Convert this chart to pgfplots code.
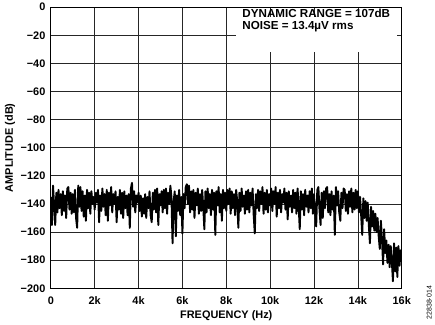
\documentclass[border=0pt]{standalone}
\usepackage{fontspec}
\setmainfont{Liberation Sans}
\usepackage{pgfplots}
\usepackage{pgfplotstable}
\pgfplotsset{compat=1.18}
\pgfplotstableread[row sep=\\]{
x y\\
0 -135\\ 50 -155\\ 100 -127\\ 150 -141\\ 200 -155\\ 250 -132\\ 300 -146\\ 350 -130\\ 400 -143\\ 450 -133\\
500 -148\\ 550 -131\\ 600 -145\\ 650 -134\\ 700 -150\\ 750 -129\\ 800 -128\\ 850 -144\\ 900 -132\\ 950 -147\\
1000 -133\\ 1050 -146\\ 1100 -130\\ 1150 -150\\ 1200 -157\\ 1250 -127\\ 1300 -142\\ 1350 -128\\ 1400 -145\\ 1450 -131\\
1500 -149\\ 1550 -134\\ 1600 -152\\ 1650 -130\\ 1700 -143\\ 1750 -132\\ 1800 -147\\ 1850 -131\\ 1900 -140\\ 1950 -135\\
2000 -144\\ 2050 -132\\ 2100 -139\\ 2150 -130\\ 2200 -153\\ 2250 -134\\ 2300 -145\\ 2350 -129\\ 2400 -142\\ 2450 -133\\
2500 -148\\ 2550 -130\\ 2600 -152\\ 2650 -132\\ 2700 -141\\ 2750 -128\\ 2800 -146\\ 2850 -133\\ 2900 -140\\ 2950 -131\\
3000 -153\\ 3050 -135\\ 3100 -144\\ 3150 -130\\ 3200 -147\\ 3250 -132\\ 3300 -150\\ 3350 -131\\ 3400 -143\\ 3450 -134\\
3500 -148\\ 3550 -133\\ 3600 -157\\ 3650 -129\\ 3700 -125\\ 3750 -142\\ 3800 -131\\ 3850 -146\\ 3900 -134\\ 3950 -139\\
4000 -132\\ 4050 -145\\ 4100 -134\\ 4150 -149\\ 4200 -136\\ 4250 -147\\ 4300 -133\\ 4350 -150\\ 4400 -135\\ 4450 -143\\
4500 -131\\ 4550 -148\\ 4600 -153\\ 4650 -132\\ 4700 -144\\ 4750 -130\\ 4800 -146\\ 4850 -129\\ 4900 -155\\ 4950 -133\\
5000 -141\\ 5050 -131\\ 5100 -146\\ 5150 -130\\ 5200 -143\\ 5250 -129\\ 5300 -147\\ 5350 -132\\ 5400 -140\\ 5450 -127\\
5500 -135\\ 5550 -168\\ 5600 -138\\ 5650 -131\\ 5700 -163\\ 5750 -134\\ 5800 -145\\ 5850 -130\\ 5900 -148\\ 5950 -135\\
6000 -161\\ 6050 -133\\ 6100 -143\\ 6150 -128\\ 6200 -126\\ 6250 -140\\ 6300 -127\\ 6350 -146\\ 6400 -131\\ 6450 -144\\
6500 -130\\ 6550 -150\\ 6600 -132\\ 6650 -141\\ 6700 -129\\ 6750 -147\\ 6800 -133\\ 6850 -145\\ 6900 -130\\ 6950 -142\\
7000 -158\\ 7050 -131\\ 7100 -146\\ 7150 -129\\ 7200 -143\\ 7250 -133\\ 7300 -148\\ 7350 -130\\ 7400 -144\\ 7450 -132\\
7500 -162\\ 7550 -131\\ 7600 -141\\ 7650 -128\\ 7700 -146\\ 7750 -133\\ 7800 -152\\ 7850 -130\\ 7900 -143\\ 7950 -132\\
8000 -145\\ 8050 -130\\ 8100 -140\\ 8150 -129\\ 8200 -147\\ 8250 -131\\ 8300 -143\\ 8350 -133\\ 8400 -148\\ 8450 -130\\
8500 -138\\ 8550 -157\\ 8600 -132\\ 8650 -145\\ 8700 -129\\ 8750 -142\\ 8800 -134\\ 8850 -147\\ 8900 -131\\ 8950 -144\\
9000 -130\\ 9050 -146\\ 9100 -132\\ 9150 -141\\ 9200 -129\\ 9250 -148\\ 9300 -161\\ 9350 -133\\ 9400 -143\\ 9450 -130\\
9500 -145\\ 9550 -131\\ 9600 -140\\ 9650 -128\\ 9700 -147\\ 9750 -132\\ 9800 -144\\ 9850 -130\\ 9900 -146\\ 9950 -133\\
10000 -141\\ 10050 -129\\ 10100 -145\\ 10150 -131\\ 10200 -140\\ 10250 -128\\ 10300 -149\\ 10350 -132\\ 10400 -143\\ 10450 -130\\
10500 -146\\ 10550 -133\\ 10600 -139\\ 10650 -129\\ 10700 -144\\ 10750 -132\\ 10800 -151\\ 10850 -131\\ 10900 -142\\ 10950 -134\\
11000 -146\\ 11050 -130\\ 11100 -143\\ 11150 -132\\ 11200 -147\\ 11250 -129\\ 11300 -141\\ 11350 -158\\ 11400 -131\\ 11450 -144\\
11500 -133\\ 11550 -148\\ 11600 -130\\ 11650 -142\\ 11700 -134\\ 11750 -146\\ 11800 -131\\ 11850 -143\\ 11900 -129\\ 11950 -147\\
12000 -133\\ 12050 -145\\ 12100 -156\\ 12150 -130\\ 12200 -128\\ 12250 -144\\ 12300 -155\\ 12350 -132\\ 12400 -150\\ 12450 -131\\
12500 -143\\ 12550 -129\\ 12600 -128\\ 12650 -146\\ 12700 -133\\ 12750 -148\\ 12800 -131\\ 12850 -144\\ 12900 -134\\ 12950 -162\\
13000 -128\\ 13050 -141\\ 13100 -131\\ 13150 -146\\ 13200 -152\\ 13250 -132\\ 13300 -143\\ 13350 -129\\ 13400 -130\\ 13450 -145\\
13500 -133\\ 13550 -147\\ 13600 -131\\ 13650 -142\\ 13700 -129\\ 13750 -146\\ 13800 -132\\ 13850 -144\\ 13900 -130\\ 13950 -143\\
14000 -131\\ 14050 -146\\ 14100 -135\\ 14150 -148\\ 14200 -162\\ 14250 -136\\ 14300 -150\\ 14350 -138\\ 14400 -152\\ 14450 -139\\
14500 -155\\ 14550 -168\\ 14600 -142\\ 14650 -156\\ 14700 -145\\ 14750 -159\\ 14800 -147\\ 14850 -160\\ 14900 -150\\ 14950 -163\\
15000 -172\\ 15050 -152\\ 15100 -165\\ 15150 -183\\ 15200 -158\\ 15250 -175\\ 15300 -166\\ 15350 -182\\ 15400 -169\\ 15450 -185\\
15500 -170\\ 15550 -181\\ 15600 -195\\ 15650 -168\\ 15700 -188\\ 15750 -171\\ 15800 -192\\ 15850 -170\\ 15900 -184\\ 15950 -173\\
16000 -178\\
}\noisedata
\begin{document}
\begin{tikzpicture}
\begin{axis}[
  at={(0,0)}, anchor=south west,
  scale only axis, width=352bp, height=282bp,
  xmin=0, xmax=16000, ymin=-200, ymax=0,
  xtick={0,2000,4000,6000,8000,10000,12000,14000,16000},
  xticklabels={0,2k,4k,6k,8k,10k,12k,14k,16k},
  ytick={-200,-180,-160,-140,-120,-100,-80,-60,-40,-20,0},
  yticklabels={−200,−180,−160,−140,−120,−100,−80,−60,−40,−20,0},
  grid=major,
  major grid style={black!85, line width=0.7bp},
  major tick length=0pt,
  axis line style={black, line width=0.9bp},
  tick label style={font=\fontsize{11}{13}\selectfont\bfseries},
  x tick label style={anchor=base, yshift=-16bp},
  y tick label style={anchor=east, xshift=-2bp},
  scaled x ticks=false, scaled y ticks=false,
  clip=true,
]
\addplot[black, line width=1.9bp, line join=round] table[x=x, y=y] {\noisedata};
\coordinate (boxA) at (axis cs:8450,-7);
\coordinate (boxB) at (axis cs:15800,-32);
\coordinate (boxT) at (axis cs:8730,-15.8);
\end{axis}
\fill[white] (boxA) rectangle (boxB);
\node[anchor=base west, align=left, inner sep=0pt, font=\fontsize{11.7}{11.8}\selectfont\bfseries] at (boxT) {DYNAMIC RANGE = 107dB\\NOISE = 13.4µV rms};
\node[rotate=90, anchor=base, font=\fontsize{11}{13}\selectfont\bfseries] at ([xshift=-38bp]current axis.west) {AMPLITUDE (dB)};
\node[anchor=base, font=\fontsize{11}{13}\selectfont\bfseries] at ([yshift=-30bp]current axis.south) {FREQUENCY (Hz)};
\node[rotate=90, anchor=base, font=\fontsize{7}{8}\selectfont] at ([shift={(30bp,-14.5bp)}]current axis.south east) {22838-014};
\path ([shift={(-51bp,-36bp)}]current axis.south west) rectangle ([shift={(32bp,5bp)}]current axis.north east);
\end{tikzpicture}
\end{document}
